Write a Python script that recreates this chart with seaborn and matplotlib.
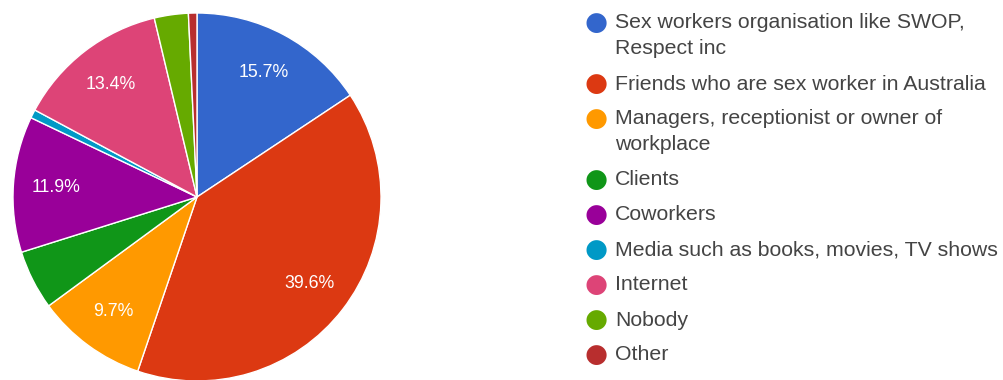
import matplotlib
matplotlib.use("Agg")
import matplotlib.pyplot as plt
import seaborn as sns

sns.set_theme(style="white")
plt.rcParams["font.family"] = ["Liberation Sans", "DejaVu Sans"]

categories = [
    "Sex workers organisation like SWOP,\nRespect inc",
    "Friends who are sex worker in Australia",
    "Managers, receptionist or owner of\nworkplace",
    "Clients",
    "Coworkers",
    "Media such as books, movies, TV shows",
    "Internet",
    "Nobody",
    "Other",
]
counts = [21, 53, 13, 7, 16, 1, 18, 4, 1]
colors = ["#3366CC", "#DC3912", "#FF9900", "#109618", "#990099",
          "#0099C6", "#DD4477", "#66AA00", "#B82E2E"]

fig = plt.figure(figsize=(10.04, 3.8), dpi=100)
W, H = 1004, 380
ax = fig.add_axes([13 / W, -1 / H, 368 / W, 368 / H])


def pct_label(p):
    return f"{p:.1f}%" if p >= 5.5 else ""


wedges, texts, autotexts = ax.pie(
    counts,
    colors=colors,
    startangle=90,
    counterclock=False,
    autopct=pct_label,
    pctdistance=0.77,
    wedgeprops=dict(edgecolor="white", linewidth=1.0),
    textprops=dict(color="white", fontsize=12.8),
)
ax.set_xlim(-1, 1)
ax.set_ylim(-1, 1)
ax.set_aspect("equal")
ax.axis("off")

# legend drawn as a column of dots and labels
x_dot, x_txt = 596, 615
y = 23
line_h, entry_gap = 26, 35
for label, col in zip(categories, colors):
    fig.text(x_dot / W, 1 - y / H, "\u25CF", color=col, fontsize=19,
             ha="center", va="center", family=["DejaVu Sans"])
    lines = label.split("\n")
    for i, ln in enumerate(lines):
        fig.text(x_txt / W, 1 - (y + i * line_h) / H, ln, color="#444444",
                 fontsize=15.3, ha="left", va="center")
    y += (len(lines) - 1) * line_h + entry_gap

fig.savefig("out.png", dpi=100)
